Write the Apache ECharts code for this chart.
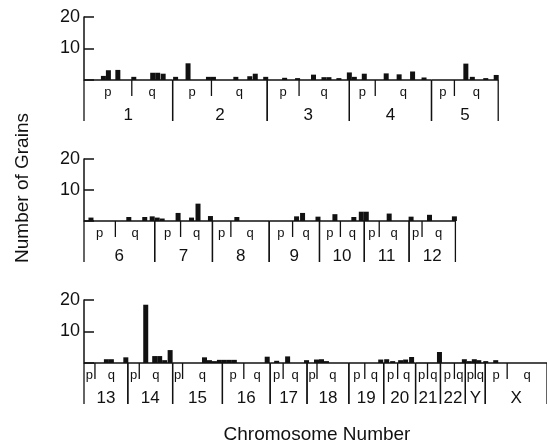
<!DOCTYPE html>
<html>
<head>
    <meta charset="utf-8">
    <script src="https://cdn.jsdelivr.net/npm/echarts@6/dist/echarts.min.js"></script>
</head>
<body style="margin:0">
    <div id="main" style="width: 547px;height:445px;"></div>
    <script type="text/javascript">
        // chromosome layout along the drawn idiogram (same units as the bar positions)
        var chrNames1 = ['1', '2', '3', '4', '5'];
        var chrEdges1 = [0, 89, 184, 266.5, 349, 416];
        var chrCen1 = [48, 128, 216, 292.5, 372];

        var chrNames2 = ['6', '7', '8', '9', '10', '11', '12'];
        var chrEdges2 = [0, 71, 129, 186, 236.5, 281.5, 326.5, 373];
        var chrCen2 = [31.5, 97, 147.5, 209.5, 257.5, 296.5, 339.5];

        var chrNames3 = ['13', '14', '15', '16', '17', '18', '19', '20', '21', '22', 'Y', 'X'];
        var chrEdges3 = [0, 44, 89, 139, 187, 224, 266, 301, 333, 358, 383, 403, 465];
        var chrCen3 = [11, 55.5, 99, 160.5, 200, 234, 282, 315, 345, 372, 393, 425];

        // grains: [position, number of grains]
        var grains1 = [[19.5, 1.3], [24.5, 3.1], [34, 3.2], [50, 1], [69, 2.3], [74, 2.3], [79.5, 2],
            [92, 1], [104.5, 5.3], [125, 1], [130, 1], [152.5, 1], [166.5, 1.2], [172, 2], [182.5, 1],
            [201.5, 0.7], [214.5, 0.6], [230.5, 1.7], [241, 0.9], [246, 0.9], [256, 0.6],
            [266.5, 2.4], [271.5, 1], [281.5, 2], [303.5, 2.1], [316.5, 1.8], [330, 2.7], [341.5, 0.8],
            [383.5, 5.2], [390, 1], [403.5, 0.6], [414, 1.6]];
        var grains2 = [[7, 1.1], [45, 1.3], [61, 1.3], [68.5, 1.5], [73.5, 1.1], [78.5, 0.8],
            [94.5, 2.6], [108, 1.1], [114.5, 5.6], [127, 1.6], [153.5, 1.3],
            [213.5, 1.5], [219.5, 2.6], [235, 1.4], [252, 2.2], [271, 1.3], [278.5, 3], [283.5, 3],
            [306.5, 2.4], [328.5, 1.4], [347, 2], [372, 1.5]];
        var grains3 = [[22.5, 1.2], [27.5, 1.2], [42, 1.8], [62, 18.5], [71, 2.2], [76, 2.2], [81, 0.9],
            [86.5, 4.1], [121, 1.8], [126, 0.9], [131, 0.6], [136, 1], [141, 1], [146, 1], [151, 1],
            [184, 2], [193.5, 0.7], [204.5, 2.1], [223.5, 0.9], [233.5, 1.1], [238.5, 1.2], [243.5, 0.6],
            [298, 1.1], [304, 1.2], [310, 0.6], [318, 0.9], [323, 1.1], [329, 1.9], [357, 3.5],
            [382, 1.2], [387, 0.6], [392, 1.2], [396.5, 0.9], [403.5, 0.6], [413.5, 0.9]];

        var yTicks = [0, 10, 20];

        var FONT = 'Liberation Sans';
        var myChart = echarts.init(document.getElementById('main'));

        function chrData(edges, cens) {
            var d = [];
            for (var i = 0; i < cens.length; i++) {
                d.push([edges[i], cens[i], edges[i + 1]]);
            }
            return d;
        }

        function makeIdiogram(names) {
            return function (params, api) {
                var s = api.coord([api.value(0), 0]);
                var c = api.coord([api.value(1), 0]);
                var e = api.coord([api.value(2), 0]);
                var y = s[1];
                var ls = { stroke: '#111', lineWidth: 1.3 };
                var pq = { fill: '#111', font: '13px ' + FONT, align: 'center', verticalAlign: 'middle' };
                return {
                    type: 'group',
                    children: [
                        { type: 'line', shape: { x1: s[0], y1: y, x2: e[0], y2: y }, style: { stroke: '#111', lineWidth: 1.6 } },
                        { type: 'line', shape: { x1: s[0], y1: y, x2: s[0], y2: y + 41 }, style: ls },
                        { type: 'line', shape: { x1: e[0], y1: y, x2: e[0], y2: y + 41 }, style: ls },
                        { type: 'line', shape: { x1: c[0], y1: y, x2: c[0], y2: y + 16 }, style: ls },
                        { type: 'text', x: (s[0] + c[0]) / 2, y: y + 12, style: Object.assign({ text: 'p' }, pq) },
                        { type: 'text', x: (c[0] + e[0]) / 2, y: y + 12, style: Object.assign({ text: 'q' }, pq) },
                        {
                            type: 'text', x: (s[0] + e[0]) / 2, y: y + 35,
                            style: { text: names[params.dataIndex], fill: '#111', font: '17px ' + FONT, align: 'center', verticalAlign: 'middle' }
                        }
                    ]
                };
            };
        }

        var grids = [
            { left: 84, top: 17, width: 465, height: 63 },
            { left: 84, top: 159, width: 465, height: 62 },
            { left: 84, top: 300, width: 465, height: 63 }
        ];

        var xAxes = [], yAxes = [], series = [];
        var panels = [
            [chrNames1, chrEdges1, chrCen1, grains1],
            [chrNames2, chrEdges2, chrCen2, grains2],
            [chrNames3, chrEdges3, chrCen3, grains3]
        ];
        panels.forEach(function (p, i) {
            xAxes.push({ gridIndex: i, type: 'value', min: 0, max: 465, show: false });
            yAxes.push({
                gridIndex: i, type: 'value', min: yTicks[0], max: yTicks[2], interval: yTicks[1] - yTicks[0],
                axisLine: { show: true, lineStyle: { color: '#111', width: 1.5 } },
                axisTick: { show: true, inside: true, length: 10, lineStyle: { color: '#111', width: 1.5 } },
                axisLabel: {
                    margin: 4, color: '#111', fontSize: 18, fontFamily: FONT,
                    formatter: function (v) { return v === 0 ? '' : v; }
                },
                splitLine: { show: false }
            });
            series.push({
                type: 'custom', xAxisIndex: i, yAxisIndex: i, silent: true,
                renderItem: makeIdiogram(p[0]),
                data: chrData(p[1], p[2]),
                z: 3
            });
            series.push({
                type: 'bar', xAxisIndex: i, yAxisIndex: i, barWidth: 5,
                itemStyle: { color: '#111' },
                data: p[3], z: 4
            });
        });

        var option = {
            animation: false,
            backgroundColor: '#fff',
            grid: grids,
            xAxis: xAxes,
            yAxis: yAxes,
            series: series,
            graphic: [
                {
                    type: 'text', x: 23, y: 188, rotation: Math.PI / 2,
                    style: { text: 'Number of Grains', fill: '#111', font: '19px ' + FONT, align: 'center', verticalAlign: 'middle' }
                },
                {
                    type: 'text', x: 317, y: 435,
                    style: { text: 'Chromosome Number', fill: '#111', font: '19px ' + FONT, align: 'center', verticalAlign: 'middle' }
                }
            ]
        };
        myChart.setOption(option);
    </script>
</body>
</html>
